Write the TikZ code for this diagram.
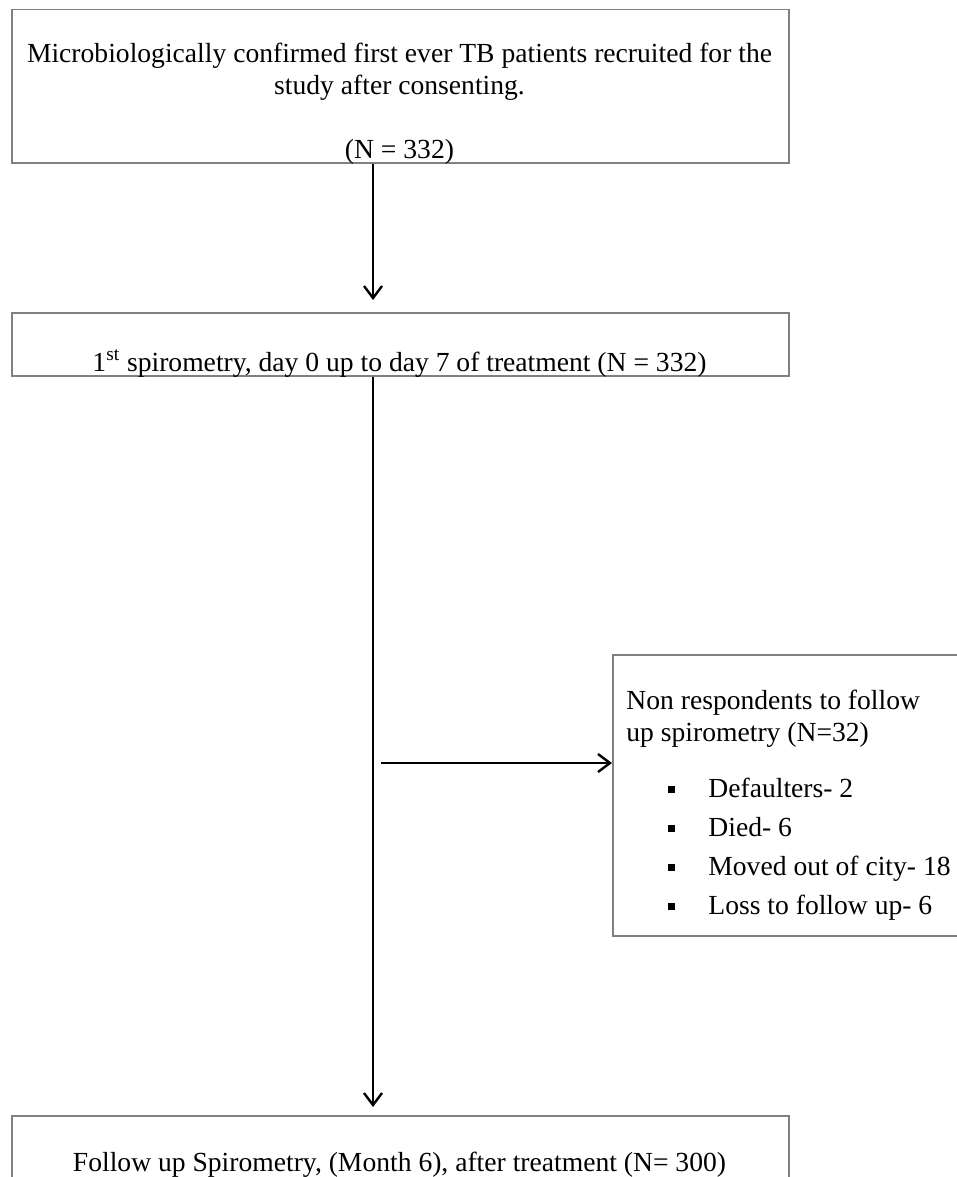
\documentclass[tikz,border=0pt]{standalone}
\usepackage{fontspec}
\setmainfont{Liberation Serif}
\usetikzlibrary{arrows.meta}
\newcommand{\cuadro}{\rule[2pt]{3.5pt}{3.5pt}\hspace{16.5pt}}

\begin{document}
\begin{tikzpicture}[x=.5pt, y=-.5pt,
		caja/.style={draw=black!50, line width=.75pt, minimum width=388.5pt, anchor=north west, inner sep=0},
		texto/.style={font=\fontsize{13.8}{16}\selectfont, inner sep=0, anchor=base},
		item/.style={texto, anchor=base west},
		flecha/.style={line width=1pt, -{Straight Barb[length=6pt, width=9pt, line width=1.2pt]}}]
		\useasboundingbox (0, 0) rectangle (957, 1177);
		
		% Cajas
		\node[caja, minimum height=76.5pt] (reclut) at (11, 9) {};
		\node[caja, minimum height=31.5pt] (espiro) at (11, 312) {};
		\node[caja, minimum height=32pt] (segui) at (11, 1115) {};
		\node[caja, minimum width=179pt, minimum height=140.5pt] (perdidos) at (612, 654) {};
		
		% Textos
		\node[texto, align=center] (t1) at (399.5, 95) {Microbiologically confirmed first ever TB patients recruited for the\\ study after consenting.};
		\node[texto] (n1) at (399.5, 158) {(N = 332)};
		\node[texto] (t2) at (399.5, 371) {1\textsuperscript{st} spirometry, day 0 up to day 7 of treatment (N = 332)};
		\node[texto] (t3) at (399.5, 1171) {Follow up Spirometry, (Month 6), after treatment (N= 300)};
		\node[texto, align=left, anchor=north west] (t4) at (626, 690) {Non respondents to follow\\ up spirometry (N=32)};
		\node[item] (i1) at (668, 797) {\cuadro Defaulters- 2};
		\node[item] (i2) at (668, 836) {\cuadro Died- 6};
		\node[item] (i3) at (668, 875) {\cuadro Moved out of city- 18};
		\node[item] (i4) at (668, 914) {\cuadro Loss to follow up- 6};
		
		% Flechas
		\coordinate (tronco) at (373, 0);
		\coordinate (rama) at (381, 763);
		\draw[flecha] (reclut.south -| tronco) -- ([yshift=6pt]espiro.north -| tronco);
		\draw[flecha] (espiro.south -| tronco) -- ([yshift=4pt]segui.north -| tronco);
		\draw[flecha] (rama) -- (rama -| perdidos.west);
	\end{tikzpicture}
\end{document}
